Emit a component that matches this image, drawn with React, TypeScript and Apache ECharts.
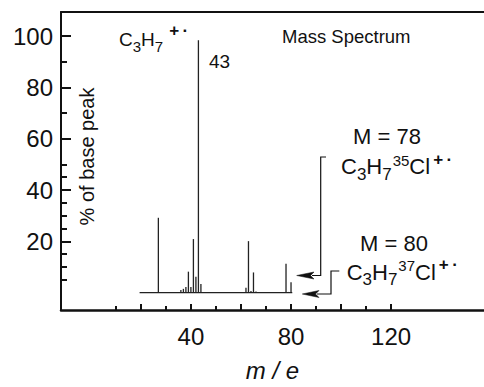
import React, { useEffect, useRef } from 'react';
import * as echarts from 'echarts';

// ---- data ----
const masses = [27, 36, 37, 38, 39, 40, 41, 42, 43, 44, 62, 63, 64, 65, 66, 78, 79, 80];
const intensities = [29.2, 1.1, 1.5, 2.2, 8.2, 2.2, 20.9, 6.2, 98.4, 3.4, 1.9, 20.1, 0.7, 7.9, 0.5, 11.3, 0.3, 4.1];
const baselineRange = [19.5, 80.5];
const xLabelValues = [40, 80, 120];
const xMajorTicks = [20, 40, 60, 80, 100, 120];
const xMinorTicks = [10, 30, 50, 70, 90, 110];
const yLabelValues = [20, 40, 60, 80, 100];
const yMajorTicks = [20, 40, 60, 80, 100];
const yMinorTicks = [5, 10, 15, 25, 30, 35, 45, 50, 70, 90];
const X_MIN = -11.9;
const X_MAX = 157.1;
const Y_MIN = -6.74;
const Y_MAX = 109.4;

const FONT = '"Liberation Sans", Arial, Helvetica, sans-serif';
const INK = '#111';

function richSet(main: number, sub: number, sup: number, signGap: number) {
  return {
    m: { fontSize: main, lineHeight: main, padding: [0, 0, 5, 0], verticalAlign: 'bottom', fontFamily: FONT, fill: INK },
    s: { fontSize: sub, lineHeight: sub, padding: [0, 0, 0, 0], verticalAlign: 'bottom', fontFamily: FONT, fill: INK },
    d: { fontSize: sup, lineHeight: sup, padding: [0, 0, 15, 1], verticalAlign: 'bottom', fontFamily: FONT, fill: INK },
    p: { fontSize: 17, fontWeight: 'bold', lineHeight: 17, padding: [0, 0, 15, signGap], verticalAlign: 'bottom', fontFamily: FONT, fill: INK },
  };
}

function plainText(text: string, x: number, y: number, size: number, extra: any = {}) {
  return {
    type: 'text', x, y, silent: true,
    style: { text, fontSize: size, fontFamily: FONT, fill: INK, align: 'left', verticalAlign: 'middle', lineHeight: size, ...extra },
  };
}

function formulaText(text: string, x: number, y: number, main: number, sub: number, sup: number, signGap: number) {
  return {
    type: 'text', x, y, silent: true,
    style: { text, align: 'left', verticalAlign: 'bottom', fontFamily: FONT, fill: INK, rich: richSet(main, sub, sup, signGap) },
  };
}

export default function App() {
  const ref = useRef<HTMLDivElement>(null);
  useEffect(() => {
    if (!ref.current) return;
    const chart = echarts.init(ref.current, undefined, { renderer: 'svg' });
    const tickStyle = { color: INK, width: 2 };
    const option: any = {
      animation: false,
      backgroundColor: '#fff',
      grid: { left: 61, top: 12, right: -3, bottom: 70 },
      xAxis: [
        {
          type: 'value', position: 'bottom', min: X_MIN, max: X_MAX,
          axisLine: { show: true, onZero: false, lineStyle: { color: INK, width: 2.5 } },
          axisTick: { show: true, inside: true, length: 6, customValues: xMajorTicks, lineStyle: tickStyle },
          axisLabel: { customValues: xLabelValues, fontSize: 24, color: INK, fontFamily: FONT, margin: 14 },
          splitLine: { show: false },
          name: 'm / e', nameLocation: 'middle', nameGap: 48,
          nameTextStyle: { fontSize: 24, fontStyle: 'italic', fontFamily: FONT, color: INK },
        },
        {
          type: 'value', position: 'bottom', min: X_MIN, max: X_MAX,
          axisLine: { show: false, onZero: false },
          axisTick: { show: true, inside: true, length: 4, customValues: xMinorTicks, lineStyle: tickStyle },
          axisLabel: { show: false }, splitLine: { show: false },
        },
        {
          type: 'value', position: 'top', min: X_MIN, max: X_MAX,
          axisLine: { show: true, onZero: false, lineStyle: { color: INK, width: 2 } },
          axisTick: { show: false }, axisLabel: { show: false }, splitLine: { show: false },
        },
      ],
      yAxis: [
        {
          type: 'value', position: 'left', min: Y_MIN, max: Y_MAX,
          axisLine: { show: true, onZero: false, lineStyle: { color: INK, width: 2 } },
          axisTick: { show: true, inside: true, length: 10, customValues: yMajorTicks, lineStyle: tickStyle },
          axisLabel: { customValues: yLabelValues, fontSize: 24, color: INK, fontFamily: FONT, margin: 8, padding: [4, 0, 0, 0] },
          splitLine: { show: false },
        },
        {
          type: 'value', position: 'left', min: Y_MIN, max: Y_MAX,
          axisLine: { show: false, onZero: false },
          axisTick: { show: true, inside: true, length: 6, customValues: yMinorTicks, lineStyle: tickStyle },
          axisLabel: { show: false }, splitLine: { show: false },
        },
      ],
      series: [
        {
          type: 'custom', xAxisIndex: 0, yAxisIndex: 0, silent: true, clip: false,
          data: masses.map((m, i) => [m, intensities[i]]),
          encode: { x: 0, y: 1 },
          renderItem: (params: any, api: any) => {
            const x = api.value(0);
            const h = api.value(1);
            const p0 = api.coord([x, 0]);
            const p1 = api.coord([x, h]);
            return {
              type: 'line',
              shape: { x1: p0[0], y1: p0[1], x2: p1[0], y2: p1[1] },
              style: { stroke: '#222', lineWidth: 1.3 },
            };
          },
        },
        {
          type: 'line', xAxisIndex: 0, yAxisIndex: 0, silent: true,
          data: baselineRange.map((x) => [x, 0]),
          symbol: 'none', lineStyle: { color: '#222', width: 1.2 },
        },
      ],
      graphic: [
        formulaText('{m|C}{s|3}{m|H}{s|7}{p|+\u2009·}', 119, 53.6, 19, 15, 14, 6),
        plainText('43', 209, 61.7, 19),
        plainText('Mass Spectrum', 282, 36.6, 18.5),
        plainText('M = 78', 353, 136.4, 22),
        formulaText('{m|C}{s|3}{m|H}{s|7}{d|35}{m|Cl}{p|+\u2009·}', 341, 182.7, 22, 17, 15, 3),
        plainText('M = 80', 360, 243.1, 22),
        formulaText('{m|C}{s|3}{m|H}{s|7}{d|37}{m|Cl}{p|+\u2009·}', 346.7, 288.4, 22, 17, 15, 3),
        {
          type: 'text', x: 87.4, y: 156.5, rotation: Math.PI / 2, silent: true,
          style: { text: '% of base peak', fontSize: 20, fontFamily: FONT, fill: INK, align: 'center', verticalAlign: 'middle', lineHeight: 20 },
        },
        {
          type: 'polyline', silent: true,
          shape: { points: [[326, 157], [320.7, 157], [320.7, 275.5], [312, 275.5]] },
          style: { stroke: INK, lineWidth: 1.2, fill: 'none' },
        },
        {
          type: 'polygon', silent: true,
          shape: { points: [[296.7, 275.5], [314, 272], [310.5, 275.5], [314, 279]] },
          style: { fill: INK, stroke: INK, lineWidth: 0.5 },
        },
        {
          type: 'polyline', silent: true,
          shape: { points: [[339.3, 271], [331, 271], [331, 294], [317, 294]] },
          style: { stroke: INK, lineWidth: 1.2, fill: 'none' },
        },
        {
          type: 'polygon', silent: true,
          shape: { points: [[302.3, 294], [319, 290.5], [315.5, 294], [319, 297.5]] },
          style: { fill: INK, stroke: INK, lineWidth: 0.5 },
        },
      ],
    };
    chart.setOption(option);
    return () => chart.dispose();
  }, []);
  return (
    <div
      ref={ref}
      style={{ position: 'fixed', left: 0, top: 0, width: 484, height: 387, background: '#fff' }}
    />
  );
}
